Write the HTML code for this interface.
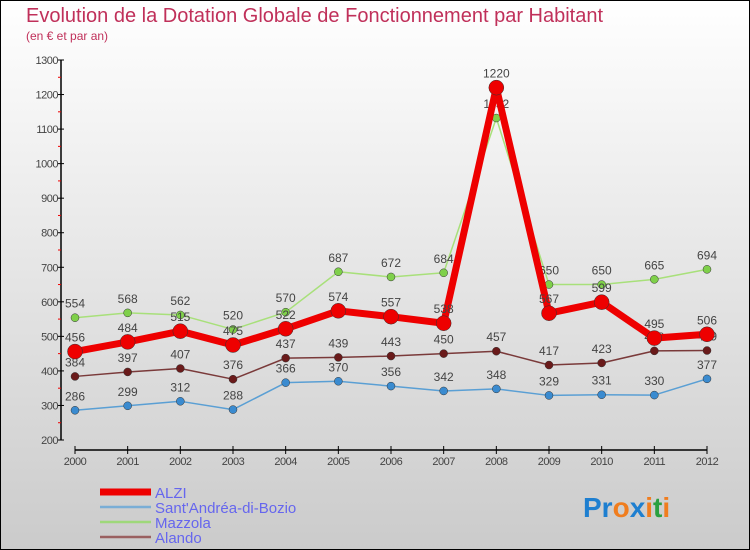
<!DOCTYPE html>
<html><head><meta charset="utf-8"><style>
html,body{margin:0;padding:0}
body{width:750px;height:550px;overflow:hidden;font-family:"Liberation Sans",sans-serif}
</style></head><body>
<svg id="chart" width="750" height="550" xmlns="http://www.w3.org/2000/svg" style="display:block">
<defs><linearGradient id="bg" x1="0" y1="0" x2="0" y2="1"><stop offset="0" stop-color="#ffffff"/><stop offset="1" stop-color="#cbcbcb"/></linearGradient></defs>
<rect x="0.5" y="0.5" width="749" height="549" fill="url(#bg)" stroke="#000"/>
<text x="26" y="22" font-size="20" fill="#c0305a">Evolution de la Dotation Globale de Fonctionnement par Habitant</text>
<text x="26" y="40" font-size="12" fill="#c0305a">(en € et par an)</text>
<g id="axes"></g><g id="series"></g><g id="legend"></g>
<text x="583" y="517" font-size="28" font-weight="bold" fill="#1e7fd0">Pr<tspan fill="#f07d1e">o</tspan><tspan fill="#1e7fd0">x</tspan><tspan fill="#f07d1e">i</tspan><tspan fill="#2aa040">t</tspan><tspan fill="#f07d1e">i</tspan></text>
</svg>
<script>
const years=[2000,2001,2002,2003,2004,2005,2006,2007,2008,2009,2010,2011,2012];
const yTicks=[200,300,400,500,600,700,800,900,1000,1100,1200,1300];
const alzi=[456,484,515,475,522,574,557,538,1220,567,599,495,506];
const santAndrea=[286,299,312,288,366,370,356,342,348,329,331,330,377];
const mazzola=[554,568,562,520,570,687,672,684,1132,650,650,665,694];
const alando=[384,397,407,376,437,439,443,450,457,417,423,458,459];
const NS="http://www.w3.org/2000/svg";
const x0=75,x1=707,yTop=60,yBot=440,vMin=200,vMax=1300;
const xs=i=>x0+(x1-x0)*i/(years.length-1);
const ys=v=>yBot-(v-vMin)*(yBot-yTop)/(vMax-vMin);
function mk(tag,attrs,parent){const e=document.createElementNS(NS,tag);for(const k in attrs)e.setAttribute(k,attrs[k]);parent.appendChild(e);return e;}
const axes=document.getElementById('axes');
let a=mk('line',{x1:61,y1:yTop,x2:61,y2:yBot,stroke:'#000','stroke-width':1.5},axes);


yTicks.forEach(v=>{
 const t=mk('line',{x1:58,y1:ys(v),x2:64,y2:ys(v),stroke:'#000'},axes);
 
 
 const l=mk('text',{x:58,y:ys(v)+4,'font-size':11,'text-anchor':'end',fill:'#444','letter-spacing':'-0.5'},axes);
 l.textContent=v;
 
 
 if(v<vMax){const m=mk('line',{x1:58,y1:ys(v+50),x2:61,y2:ys(v+50),stroke:'#e00'},axes);
 
 }
});
a=mk('line',{x1:x0,y1:450,x2:x1,y2:450,stroke:'#000','stroke-width':1.5},axes);


years.forEach((y,i)=>{
 const t=mk('line',{x1:xs(i),y1:446,x2:xs(i),y2:454,stroke:'#000'},axes);
 
 
 const l=mk('text',{x:xs(i),y:465,'font-size':11,'text-anchor':'middle',fill:'#444','letter-spacing':'-0.5'},axes);
 l.textContent=y;
 
 
});
const ser=document.getElementById('series');
function draw(name,vals,color,w,r,fill){
 const g=mk('g',{},ser);
 
 
 const p=mk('polyline',{points:vals.map((v,i)=>xs(i)+','+ys(v)).join(' '),fill:'none',stroke:color,'stroke-width':w,'stroke-linejoin':'round'},g);
 
 
 vals.forEach((v,i)=>{
  const c=mk('circle',{cx:xs(i),cy:ys(v),r:r,fill:fill,stroke:'#333','stroke-width':0.5},g);
  
  
  const t=mk('text',{x:xs(i),y:ys(v)-10,'font-size':12,'text-anchor':'middle',fill:'#444'},g);
  t.textContent=v;
  
  
 });
}
draw('sant-andrea',santAndrea,'#5a9fd4',1.5,4,'#3a8bd0');
draw('alando',alando,'#7a3a3a',1.5,4,'#6a1a1a');
draw('mazzola',mazzola,'#a8e07a',1.5,4,'#7fd04a');
draw('alzi',alzi,'#ee0000',7,7.5,'#ee0000');
const leg=document.getElementById('legend');
const items=[['ALZI','#ee0000',7],['Sant\'Andréa-di-Bozio','#7aaed6',2.5],['Mazzola','#9ed87a',2.5],['Alando','#9a6060',2.5]];
items.forEach((it,i)=>{
 const yy=492+i*15;
 const l=mk('line',{x1:100,y1:yy,x2:151,y2:yy,stroke:it[1],'stroke-width':it[2]},leg);
 
 
 const t=mk('text',{x:155,y:yy+6,'font-size':15,fill:'#6666ee'},leg);
 t.textContent=it[0];
 
 
});
</script>
</body></html>
